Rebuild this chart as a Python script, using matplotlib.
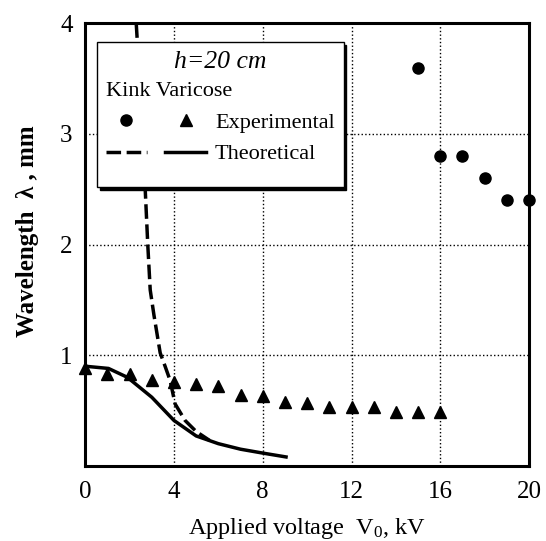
#!/usr/bin/env python

import matplotlib
matplotlib.use('Agg')
import matplotlib.pyplot as plt
from matplotlib.legend_handler import HandlerTuple
from matplotlib.offsetbox import TextArea, VPacker, DrawingArea

SERIF        = 'Liberation Serif'
TICK_FONT    = 18
LABEL_FONT   = 17.5
LEGEND_FONT  = 16
TITLE_FONT   = 18.5
DASHES       = (0, (4.2, 1.6))
ROW_SPACING  = 0.5

plt.rcParams['font.family']        = SERIF
plt.rcParams['mathtext.fontset']   = 'custom'
plt.rcParams['mathtext.rm']        = SERIF
plt.rcParams['mathtext.it']        = SERIF + ':italic'

# kink mode, experimental points
KINK_V   = [15, 16, 17, 18, 19, 20]
KINK_LAM = [3.6, 2.8, 2.8, 2.6, 2.4, 2.4]

# varicose mode, experimental points
VARI_V   = [0, 1, 2, 3, 4, 5, 6, 7, 8, 9, 10, 11, 12, 13, 14, 15, 16]
VARI_LAM = [0.88, 0.83, 0.83, 0.78, 0.76, 0.74, 0.72, 0.64, 0.63,
            0.58, 0.57, 0.53, 0.53, 0.53, 0.49, 0.49, 0.49]

# kink mode, theoretical curve
KINK_TH_V   = [2.3, 2.45, 2.6, 2.7, 2.82, 2.93, 3.1, 3.38, 3.6, 3.83, 4.05, 4.5, 5.0, 5.6]
KINK_TH_LAM = [4.0, 3.5, 3.0, 2.52, 2.0, 1.59, 1.36, 1.02, 0.9, 0.77, 0.56, 0.41, 0.31, 0.23]

# varicose mode, theoretical curve
VARI_TH_V   = [0, 1.05, 1.9, 3.0, 4.0, 5.0, 6.0, 7.0, 8.0, 9.05]
VARI_TH_LAM = [0.90, 0.88, 0.80, 0.62, 0.41, 0.27, 0.20, 0.15, 0.115, 0.08]

X_TICKS = [0, 4, 8, 12, 16, 20]
Y_TICKS = [1, 2, 3, 4]


fig = plt.figure(figsize=(5.46, 5.41), dpi=100)
ax  = fig.add_axes([0.156, 0.139, 0.813, 0.818])

kinkPts, = ax.plot(KINK_V, KINK_LAM, ls='none', marker='o', ms=8, color='black', clip_on=False, zorder=4)
variPts, = ax.plot(VARI_V, VARI_LAM, ls='none', marker='^', ms=8, color='black', clip_on=False, zorder=4)
kinkTh,  = ax.plot(KINK_TH_V, KINK_TH_LAM, ls=DASHES, lw=2.5, color='black', zorder=3)
variTh,  = ax.plot(VARI_TH_V, VARI_TH_LAM, ls='-', lw=2.5, color='black', zorder=3)

ax.set_xlim(0, 20)
ax.set_ylim(0, 4)
ax.set_xticks(X_TICKS)
ax.set_yticks(Y_TICKS)
ax.tick_params(length=0, labelsize=TICK_FONT)
ax.tick_params(axis='x', pad=11)
ax.tick_params(axis='y', pad=9)
ax.grid(True, ls=':', lw=1.0, color='black')

for spine in ax.spines.values():
    spine.set_linewidth(2.2)

ax.set_xlabel(r'Applied voltage  V$_\mathrm{0}$, kV', fontsize=LABEL_FONT, labelpad=9)
ax.set_ylabel('Wavelength  λ , mm', fontsize=18, fontweight='bold')
ax.yaxis.set_label_coords(-0.104, 0.53)

legend = ax.legend([(kinkPts, variPts), (kinkTh, variTh)], ['Experimental', 'Theoretical'],
                   handler_map={tuple: HandlerTuple(ndivide=None, pad=0.85)},
                   numpoints=1, handlelength=4.5, handletextpad=0.4, labelspacing=ROW_SPACING,
                   borderpad=0.4, loc='upper left', bbox_to_anchor=(0.027, 0.957),
                   borderaxespad=0, fancybox=False, framealpha=1, edgecolor='black',
                   shadow={'color': 'black', 'alpha': 1},
                   prop={'family': SERIF, 'size': LEGEND_FONT},
                   title='h=20 cm',
                   title_fontproperties={'family': SERIF, 'style': 'italic', 'size': TITLE_FONT})
legend.get_frame().set_linewidth(1.0)

# insert the "Kink Varicose" header between the title and the entries,
# plus a little empty room at the bottom of the box
header = TextArea('Kink Varicose', textprops={'family': SERIF, 'size': LEGEND_FONT})
spacer = DrawingArea(1, 2)
body   = VPacker(pad=0, sep=ROW_SPACING * LEGEND_FONT, align='left',
                 children=[header, legend._legend_handle_box, spacer])
legend._legend_box._children = [legend._legend_title_box, body]
legend._legend_box.sep = 0.4 * LEGEND_FONT
for box in (header, spacer, body):
    box.set_figure(fig)

fig.savefig('out.png', dpi=100)
plt.close(fig)
